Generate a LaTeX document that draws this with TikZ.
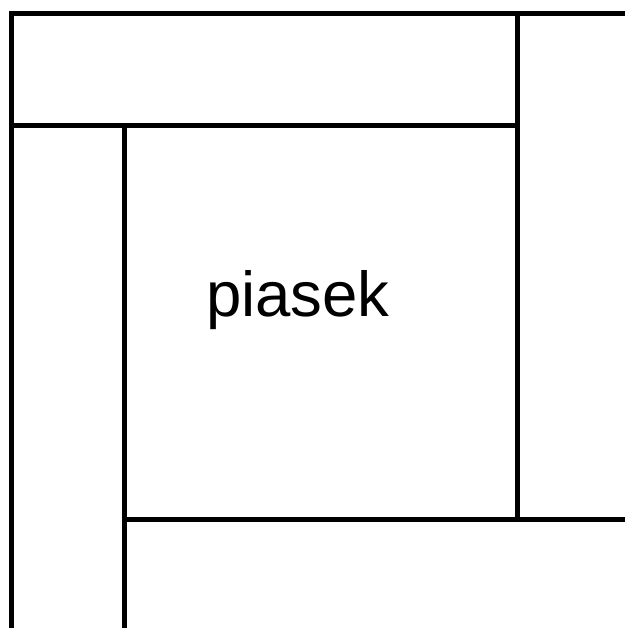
\documentclass[tikz,border=0pt]{standalone}
\usepackage{fontspec}
\setmainfont{Liberation Sans}
\begin{document}
\begin{tikzpicture}[x=1pt, y=-1pt, line width=5pt, font=\fontsize{63.5}{70}\selectfont]
  \useasboundingbox (0,0) rectangle (625,628);
  \draw (11,628) -- (11,13.5) -- (625,13.5);
  \draw (11,126) -- (517,126);
  \draw (517,13.5) -- (517,519);
  \draw (124,628) -- (124,126);
  \draw (124,519) -- (625,519);
  \node[anchor=base, inner sep=0pt] (piasek) at (298,316) {piasek};
\end{tikzpicture}
\end{document}
